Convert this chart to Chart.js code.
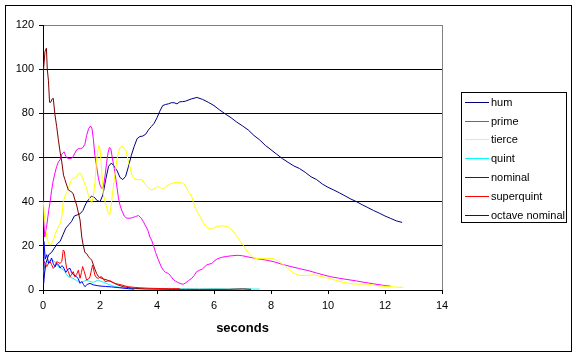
<!DOCTYPE html>
<html>
<head>
<meta charset="utf-8">
<script src="https://cdn.jsdelivr.net/npm/chart.js@4/dist/chart.umd.min.js"></script>
<style>
html,body{margin:0;padding:0;background:#fff;}
#c{display:block;}
</style>
</head>
<body>
<canvas id="c" width="578" height="357"></canvas>
<script>
// ---- data (time in seconds, value) ----
const seriesNames = ["hum","prime","tierce","quint","nominal","superquint","octave nominal"];
const seriesColors = ["#000080","#FF00FF","#FFFF00","#00FFFF","#800000","#FF0000","#0000FF"];
const xTicks = [0,2,4,6,8,10,12,14];
const yTicks = [0,20,40,60,80,100,120];

const hum = [[0,2],[0.1,12],[0.2,16],[0.3,17],[0.4,19],[0.5,21],[0.6,22],[0.7,25],[0.8,28],[0.9,29.5],
[1.0,31],[1.1,33.5],[1.2,34],[1.3,34.5],[1.4,36],[1.5,39],[1.6,41],[1.7,42.5],[1.8,42],[1.9,40.5],
[2.0,40],[2.1,43],[2.2,50],[2.3,56],[2.4,57.5],[2.5,56],[2.6,54],[2.7,51],[2.8,50],[2.9,51.5],
[3.0,56],[3.1,61],[3.2,65],[3.3,68.5],[3.4,69.5],[3.5,69.7],[3.6,70.5],[3.7,72.5],[3.8,74],[3.9,75.5],
[4.0,78],[4.1,81],[4.2,83.5],[4.3,84],[4.4,84.3],[4.5,84.8],[4.6,84.8],[4.7,84.3],[4.8,85.2],[4.9,85.3],
[5.0,85.5],[5.2,86.5],[5.4,87.2],[5.6,86.3],[5.8,85],[6.0,83.5],[6.2,81.5],[6.4,79.7],[6.6,78],[6.8,76],
[7.0,74.3],[7.2,72.5],[7.4,70],[7.6,68],[7.8,65.5],[8.0,63.5],[8.2,61.5],[8.4,59.5],[8.6,57.8],[8.8,56.2],
[9.0,55],[9.2,53.3],[9.4,51.3],[9.6,50],[9.8,48],[10.0,46.5],[10.2,45.3],[10.4,44],[10.6,42.6],[10.8,41.2],
[11.0,40],[11.2,38.6],[11.4,37.3],[11.6,36],[11.8,34.8],[12.0,33.5],[12.2,32.4],[12.4,31.3],[12.6,30.6]];

const prime = [[0,37.7],[0.06,24],[0.13,29],[0.2,36],[0.25,40],[0.3,45],[0.36,49.5],[0.42,53],[0.48,56],[0.54,58],
[0.6,59],[0.66,61.5],[0.74,62.6],[0.8,60.5],[0.88,59.5],[0.95,59.5],[1.0,59.6],[1.06,60.5],[1.12,62],[1.18,63.5],
[1.25,64],[1.32,64],[1.4,64.5],[1.47,66],[1.53,70],[1.6,73],[1.67,74.3],[1.72,73],[1.77,68],[1.82,61],
[1.88,56],[1.94,51],[2.0,47.5],[2.06,46],[2.12,46.5],[2.18,52],[2.23,57.4],[2.28,62],[2.33,64.5],[2.38,64],
[2.43,60],[2.5,55],[2.56,50],[2.64,42.3],[2.7,38.5],[2.76,36.2],[2.85,33.5],[2.94,32.5],[3.05,32.5],[3.15,32.8],
[3.25,33.3],[3.35,33.7],[3.45,32.5],[3.52,31],[3.6,29],[3.68,27],[3.75,24],[3.81,22.6],[3.87,20.4],[3.95,17],
[4.05,13.6],[4.15,10.5],[4.22,9],[4.3,8],[4.4,7.5],[4.5,6],[4.57,4.8],[4.65,4],[4.75,3.3],[4.85,2.8],
[4.92,2.6],[5.0,3.2],[5.1,4.2],[5.22,5.3],[5.3,6.5],[5.39,8.3],[5.5,9],[5.6,9.6],[5.74,11.3],[5.85,11.8],
[5.92,12],[6.0,13],[6.09,13.9],[6.2,14.5],[6.3,14.9],[6.45,15.2],[6.56,15.4],[6.7,15.6],[6.85,15.7],[7.0,15.5],
[7.15,15.1],[7.3,14.7],[7.5,14.2],[7.8,13.6],[8.1,12.8],[8.4,11.6],[8.7,10.6],[9.0,9.7],[9.3,8.8],[9.6,7.7],
[9.85,6.8],[10.1,6],[10.4,5.3],[10.7,4.7],[11.0,4.1],[11.3,3.4],[11.6,2.8],[11.9,2.2],[12.2,1.7]];

const tierce = [[0,42],[0.06,32],[0.13,24],[0.2,21],[0.25,20.4],[0.3,21],[0.36,22.6],[0.45,26],[0.54,28.7],[0.6,30],
[0.66,33],[0.71,40],[0.77,42.5],[0.83,44],[0.9,46.5],[0.95,48.3],[1.0,49.8],[1.06,50.6],[1.12,50.8],[1.18,51.3],
[1.24,52.5],[1.3,53],[1.36,51.5],[1.41,50],[1.47,48],[1.53,46],[1.59,43],[1.65,41],[1.71,39.5],[1.77,43],
[1.82,48],[1.87,57],[1.91,62],[1.96,65.5],[2.0,64],[2.04,58],[2.08,50],[2.12,43],[2.18,40],[2.24,37],
[2.29,34.5],[2.34,34],[2.39,38],[2.44,44],[2.5,50],[2.56,56],[2.62,61],[2.7,64.5],[2.78,65.2],[2.85,64],
[2.92,63],[2.98,59],[3.05,55.8],[3.11,52.5],[3.17,51],[3.25,50],[3.35,50],[3.46,50.1],[3.55,48.5],[3.64,47],
[3.72,46],[3.81,45.3],[3.9,45.8],[3.99,46.5],[4.05,47],[4.1,46.5],[4.16,46],[4.22,45.7],[4.3,46.8],[4.4,47.6],
[4.5,48.2],[4.6,48.6],[4.7,48.8],[4.81,48.6],[4.9,48.3],[4.98,47.6],[5.05,46],[5.1,44.5],[5.16,43.5],[5.22,42.3],
[5.27,40],[5.33,37.7],[5.39,36],[5.45,34.5],[5.51,33.2],[5.6,31],[5.68,29.4],[5.77,28.2],[5.86,27.6],[5.95,27.8],
[6.04,28.4],[6.12,28.8],[6.21,29],[6.35,29],[6.5,28.5],[6.6,27.5],[6.68,26.4],[6.77,25],[6.85,23.4],[6.95,21.5],
[7.03,20.2],[7.09,18.9],[7.18,17.2],[7.26,16],[7.35,15],[7.44,14.3],[7.6,14.2],[7.8,14.2],[8.08,14.2],[8.2,13.6],
[8.32,12.4],[8.43,11.5],[8.55,10.3],[8.65,9],[8.78,7.8],[8.9,7],[9.02,6.6],[9.2,6.6],[9.49,6.8],[9.7,6.3],
[9.95,5.6],[10.2,4.7],[10.42,3.8],[10.65,3.2],[10.89,2.7],[11.1,2.7],[11.36,2.7],[11.6,2.2],[11.82,1.8],[12.1,1.6],
[12.4,1.3],[12.64,1.2]];

const quint = [[0,6.8],[0.04,10.6],[0.1,12],[0.19,12.8],[0.3,13.6],[0.36,13.3],[0.42,12.8],[0.48,11.5],[0.54,10.6],[0.6,10],
[0.66,9.8],[0.72,9],[0.77,8.3],[0.83,7],[0.89,6],[0.95,5.7],[1.06,5.3],[1.18,4.2],[1.3,3.5],[1.41,3.8],
[1.53,4.5],[1.65,3.8],[1.77,3.5],[1.94,4.5],[2.12,3.5],[2.35,2.3],[2.5,1.7],[2.7,1.2],[2.9,0.9],[3.05,0.7],
[3.3,0.5],[3.6,0.4],[4.0,0.5],[4.5,0.4],[5.0,0.5],[5.5,0.4],[6.0,0.5],[6.5,0.4],[7.0,0.5],[7.6,0.4]];

const nominal = [[0,40],[0.01,67],[0.03,100],[0.07,108],[0.12,109.5],[0.15,100],[0.19,95],[0.23,85],[0.27,85],[0.32,86.5],
[0.36,86.8],[0.42,79.3],[0.48,74],[0.54,68],[0.6,62.5],[0.66,58],[0.72,52],[0.77,50],[0.83,47.5],[0.89,45.3],
[0.95,44.8],[1.0,44.5],[1.06,43.5],[1.12,40.8],[1.18,38.5],[1.24,35],[1.3,31.7],[1.36,24],[1.41,20.4],[1.47,17],
[1.53,16.5],[1.6,15],[1.65,14.3],[1.71,13.5],[1.77,11.3],[1.82,9.5],[1.88,7.5],[1.94,6.2],[2.0,5.6],[2.12,5],
[2.23,4.6],[2.35,4],[2.47,3.3],[2.58,2.5],[2.7,2],[2.82,1.5],[2.94,1.2],[3.1,0.9],[3.3,0.7],[3.6,0.5],
[4.0,0.4],[4.5,0.3],[5.0,0.3],[5.5,0.3],[6.0,0.3],[6.5,0.3],[7.0,0.5],[7.3,0.3]];

const superquint = [[0,9.8],[0.03,13],[0.08,12],[0.13,10.6],[0.19,12],[0.25,12.8],[0.3,11.5],[0.36,9.8],[0.42,10.6],[0.48,12.8],
[0.54,12.5],[0.6,12],[0.66,13],[0.71,18.1],[0.75,17.5],[0.79,13],[0.83,9.8],[0.89,8.3],[0.95,6],[1.0,7],
[1.06,8.3],[1.12,6],[1.18,7],[1.24,9],[1.3,5.3],[1.35,8],[1.39,10.6],[1.45,8.3],[1.53,4.5],[1.6,5],
[1.65,6],[1.7,9],[1.74,11.3],[1.78,9],[1.82,6.8],[1.88,5.5],[1.94,5.3],[2.0,5.8],[2.06,6],[2.12,4.8],
[2.18,3.8],[2.26,4],[2.35,4.2],[2.44,3.5],[2.53,3],[2.65,2.6],[2.76,2.3],[2.88,1.8],[2.99,1.5],[3.2,1.2],
[3.4,1],[3.7,0.8],[4.0,0.7],[4.4,0.6],[4.8,0.6]];

const octaveNominal = [[0,3],[0.03,22],[0.08,14],[0.13,16],[0.2,12],[0.25,13],[0.3,14.5],[0.36,12],[0.42,10.5],[0.48,12],
[0.54,11.5],[0.6,10],[0.66,11],[0.71,10.5],[0.8,8],[0.88,9.5],[0.95,9.8],[1.0,8],[1.06,7],[1.12,6.5],
[1.18,6],[1.24,5],[1.3,3],[1.36,3.8],[1.42,2.5],[1.47,1.5],[1.55,2.5],[1.65,3],[1.77,2.3],[1.9,2],
[2.0,1.8],[2.2,1.6],[2.4,1.4],[2.7,1],[3.0,0.6],[3.2,0.4]];

const allSeries = [hum, prime, tierce, quint, nominal, superquint, octaveNominal];

const FONT = "'Liberation Sans', Arial, sans-serif";

const frame = {
  id: 'frame',
  beforeDraw(chart) {
    const ctx = chart.ctx;
    ctx.save();
    ctx.fillStyle = '#fff';
    ctx.fillRect(0, 0, chart.width, chart.height);
    ctx.strokeStyle = '#000';
    ctx.lineWidth = 1;
    ctx.strokeRect(5.5, 5.5, 566, 346);
    ctx.restore();
  },
  afterDraw(chart) {
    const ctx = chart.ctx;
    const a = chart.chartArea;
    ctx.save();
    ctx.strokeStyle = '#808080';
    ctx.lineWidth = 1;
    ctx.beginPath();
    ctx.moveTo(Math.round(a.right) + 0.5, a.top);
    ctx.lineTo(Math.round(a.right) + 0.5, a.bottom);
    ctx.stroke();
    // legend
    ctx.strokeStyle = '#000';
    ctx.strokeRect(461.5, 92.5, 105, 130);
    ctx.font = '11px ' + FONT;
    ctx.textBaseline = 'middle';
    ctx.textAlign = 'left';
    chart.data.datasets.forEach((ds, i) => {
      const y = Math.round(101.7 + i * 18.85) + 0.5;
      ctx.strokeStyle = ds.borderColor;
      ctx.lineWidth = 1;
      ctx.beginPath();
      ctx.moveTo(465, y);
      ctx.lineTo(489, y);
      ctx.stroke();
      ctx.fillStyle = '#000';
      ctx.fillText(ds.label, 491, y);
    });
    ctx.restore();
  }
};

new Chart(document.getElementById('c'), {
  type: 'line',
  data: {
    datasets: allSeries.map((s, i) => ({
      label: seriesNames[i],
      data: s.map(([x, y]) => ({x, y})),
      borderColor: seriesColors[i],
      backgroundColor: seriesColors[i],
      borderWidth: 1,
      pointRadius: 0,
      tension: 0,
      fill: false,
      order: allSeries.length - i
    }))
  },
  options: {
    responsive: false,
    devicePixelRatio: 1,
    animation: false,
    events: [],
    layout: { padding: { left: 0, top: 25, right: 136, bottom: 0 } },
    plugins: { legend: { display: false }, tooltip: { enabled: false } },
    scales: {
      x: {
        type: 'linear',
        min: 0, max: 14,
        afterBuildTicks(scale) { scale.ticks = xTicks.map(v => ({value: v})); },
        afterFit(scale) { scale.height = 67; },
        ticks: { color: '#000', font: { family: FONT, size: 11 }, padding: 5, maxRotation: 0 },
        grid: { drawOnChartArea: false, drawTicks: true, tickLength: 4, color: '#000', tickColor: '#000' },
        border: { color: '#000', width: 1 },
        title: { display: true, text: 'seconds', color: '#000', font: { family: FONT, size: 13, weight: 'bold' }, padding: { top: 0, bottom: 21 } }
      },
      y: {
        min: 0, max: 120,
        afterBuildTicks(scale) { scale.ticks = yTicks.map(v => ({value: v})); },
        afterFit(scale) { scale.width = 43; },
        ticks: { color: '#000', font: { family: FONT, size: 11 }, padding: 5 },
        grid: {
          drawTicks: true, tickLength: 4,
          color: ctx => (ctx.tick && ctx.tick.value === 120) ? '#808080' : '#000',
          tickColor: '#000'
        },
        border: { color: '#000', width: 1 }
      }
    }
  },
  plugins: [frame]
});
</script>
</body>
</html>
